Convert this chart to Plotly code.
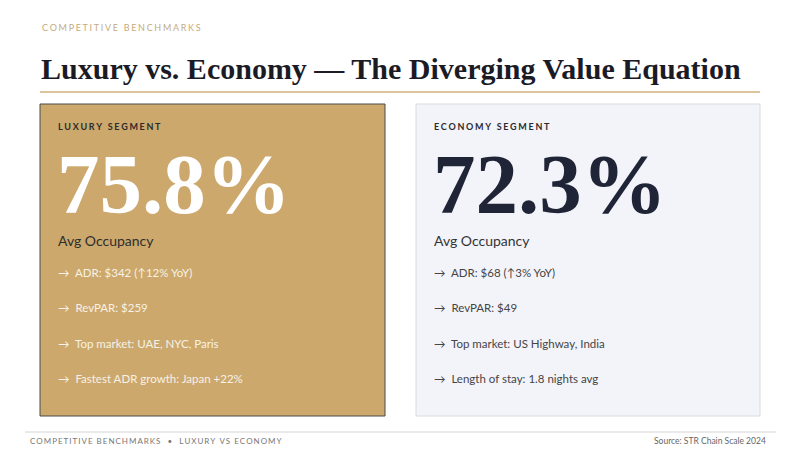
import plotly.graph_objects as go

# Slide content
kicker = "COMPETITIVE BENCHMARKS"
title = "Luxury vs. Economy \u2014 The Diverging Value Equation"
segments = ["LUXURY SEGMENT", "ECONOMY SEGMENT"]
occupancy = [75.8, 72.3]
metric_label = "Avg Occupancy"
bullets = [
    ["ADR: $342 (\u219112% YoY)", "RevPAR: $259",
     "Top market: UAE, NYC, Paris", "Fastest ADR growth: Japan +22%"],
    ["ADR: $68 (\u21913% YoY)", "RevPAR: $49",
     "Top market: US Highway, India", "Length of stay: 1.8 nights avg"],
]
footer_left = "COMPETITIVE BENCHMARKS  \u2022  LUXURY VS ECONOMY"
footer_right = "Source: STR Chain Scale 2024"

SERIF = "Liberation Serif"
SANS = "Lato, DejaVu Sans"


def spaced(s, gap="\u2009"):
    return gap.join(list(s))


# card styles (left gold, right pale)
card_x = [(40, 385), (416, 760)]
card_fill = ["#cca86c", "#f3f3fa"]
card_line = ["#4a4a4a", "#d9d9e2"]
big_color = ["#ffffff", "#1f2436"]
head_color = ["#2b2b2b", "#2b2b2b"]
label_color = ["#2e2e2e", "#333333"]
bullet_color = ["#f7f1e6", "#454545"]

fig = go.Figure()
shapes = []
ann = []

ann.append(dict(x=40, y=27, text=spaced(kicker, "\u2009\u200a"),
                font=dict(family=SANS, size=9, color="#c4ab80")))
ann.append(dict(x=39, y=68, text="<b>%s</b>" % title, font=dict(family=SERIF, size=30, color="#1b1b26")))
shapes.append(dict(type="line", x0=40, x1=760, y0=92, y1=92, line=dict(color="#d2b07c", width=1.5)))

for i, seg in enumerate(segments):
    x0, x1 = card_x[i]
    shapes.append(dict(type="rect", x0=x0, x1=x1, y0=104, y1=416,
                       fillcolor=card_fill[i], line=dict(color=card_line[i], width=1), layer="below"))
    tx = x0 + 16
    ann.append(dict(x=tx, y=126, text="<b>%s</b>" % spaced(seg, "\u2009\u200a"),
                    font=dict(family=SANS, size=9, color=head_color[i])))
    ann.append(dict(x=tx - 1, y=184, text="<b>%.1f%%</b>" % occupancy[i],
                    font=dict(family=SERIF, size=85, color=big_color[i])))
    ann.append(dict(x=tx, y=240, text=metric_label,
                    font=dict(family=SANS, size=14, color=label_color[i])))
    for j, b in enumerate(bullets[i]):
        ann.append(dict(x=tx, y=272 + j * 35.5, text="\u2192  " + b,
                        font=dict(family=SANS, size=11.5, color=bullet_color[i])))

shapes.append(dict(type="line", x0=25, x1=776, y0=432, y1=432, line=dict(color="#d5d5d5", width=1)))
ann.append(dict(x=28, y=441, text=spaced(footer_left), font=dict(family=SANS, size=8, color="#777777")))
ann.append(dict(x=768, y=441, text=footer_right, xanchor="right",
                font=dict(family=SANS, size=8.5, color="#666666")))

for a in ann:
    a.setdefault("xanchor", "left")
    a.update(xref="x", yref="y", yanchor="middle", showarrow=False)

fig.update_layout(
    width=800, height=450,
    margin=dict(l=0, r=0, t=0, b=0),
    paper_bgcolor="#ffffff", plot_bgcolor="#ffffff",
    xaxis=dict(range=[0, 800], visible=False, fixedrange=True),
    yaxis=dict(range=[450, 0], visible=False, fixedrange=True),
    shapes=shapes, annotations=ann, showlegend=False,
)
fig.write_html("out.html", config={"displayModeBar": False},
               post_script="document.body.style.margin='0';")
